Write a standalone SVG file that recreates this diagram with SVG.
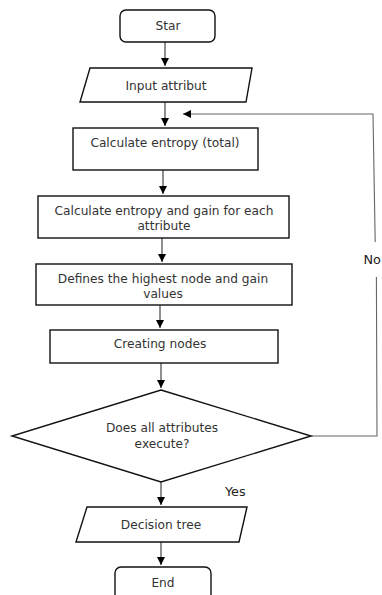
<svg xmlns="http://www.w3.org/2000/svg" width="382" height="595" viewBox="0 0 382 595">
<style>
.s{fill:#fff;stroke:#111;stroke-width:1.4}
.t{font-family:"DejaVu Sans",sans-serif;font-size:12.2px;fill:#333;text-anchor:middle}
.c{fill:none;stroke:#333;stroke-width:1.1}
.l{font-family:"DejaVu Sans",sans-serif;font-size:12.8px;fill:#222}
</style>
<defs>
<marker id="a" viewBox="0 0 10 10" refX="10" refY="5" markerWidth="8" markerHeight="8" markerUnits="userSpaceOnUse" orient="auto">
<path d="M0,0 L10,5 L0,10 z" fill="#000"/>
</marker>
</defs>
<rect width="382" height="595" fill="#fff"/>
<g id="connectors">
<path class="c" d="M165,42 V66" marker-end="url(#a)"/>
<path class="c" d="M165,102 V126" marker-end="url(#a)"/>
<path class="c" d="M163,170 V194" marker-end="url(#a)"/>
<path class="c" d="M162,238 V262" marker-end="url(#a)"/>
<path class="c" d="M160,305 V328" marker-end="url(#a)"/>
<path class="c" d="M161,363 V388" marker-end="url(#a)"/>
<path class="c" d="M161,482 V505" marker-end="url(#a)"/>
<path class="c" d="M161,542 V565" marker-end="url(#a)"/>
<path class="c" style="stroke:#666" d="M311,436 H377 L376.4,277"/>
<path class="c" style="stroke:#666" d="M375.2,242 L373,114 H183" marker-end="url(#a)"/>
<text class="l" x="363.5" y="264">No</text>
<text class="l" x="225" y="496">Yes</text>
</g>
<g id="start">
<rect class="s" x="120" y="10" width="95" height="32" rx="6"/>
<text class="t" x="168" y="30">Star</text>
</g>
<g id="input">
<polygon class="s" points="90,68 252,68 246,102 80,102"/>
<text class="t" x="166" y="90">Input attribut</text>
</g>
<g id="entropy-total">
<rect class="s" x="73" y="128" width="185" height="42"/>
<text class="t" x="165" y="147">Calculate entropy (total)</text>
</g>
<g id="entropy-gain">
<rect class="s" x="38" y="196" width="251" height="42"/>
<text class="t" x="164" y="215">Calculate entropy and gain for each</text>
<text class="t" x="164" y="230">attribute</text>
</g>
<g id="highest">
<rect class="s" x="36" y="264" width="256" height="41"/>
<text class="t" x="163" y="283">Defines the highest node and gain</text>
<text class="t" x="163" y="298">values</text>
</g>
<g id="creating">
<rect class="s" x="50" y="330" width="228" height="33"/>
<text class="t" x="160" y="348">Creating nodes</text>
</g>
<g id="decision">
<polygon class="s" points="161,390 311,436 161,482 12,436"/>
<text class="t" x="162" y="432">Does all attributes</text>
<text class="t" x="162" y="448">execute?</text>
</g>
<g id="tree">
<polygon class="s" points="87,507 247,507 239,542 76,542"/>
<text class="t" x="161" y="529">Decision tree</text>
</g>
<g id="end">
<rect class="s" x="115" y="567" width="96" height="40" rx="6"/>
<text class="t" x="163" y="587">End</text>
</g>
</svg>
